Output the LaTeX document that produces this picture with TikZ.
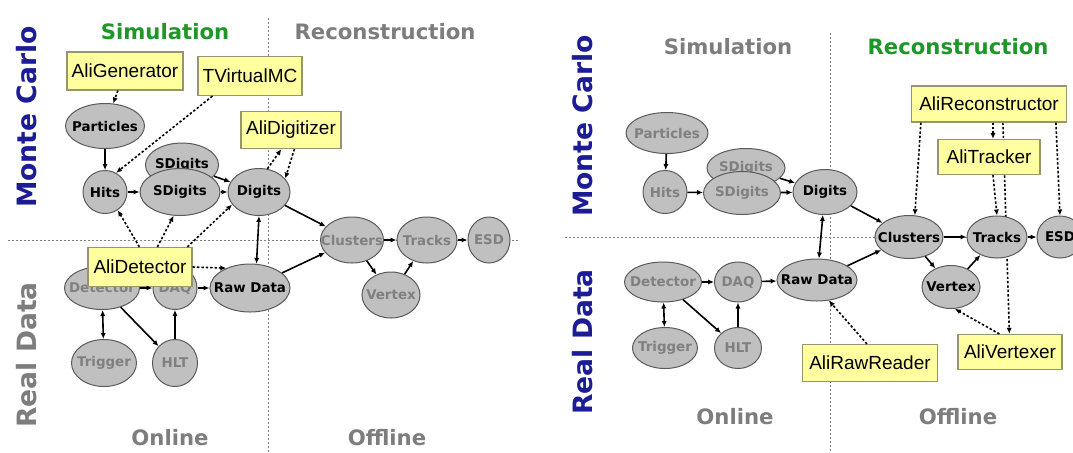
\documentclass[tikz,border=0pt]{standalone}
\usepackage{fontspec}
\setmainfont{Liberation Sans}
\newfontfamily\dejavu{DejaVu Sans}
\usetikzlibrary{shapes.geometric,arrows.meta,backgrounds}
\definecolor{blobfill}{RGB}{192,192,192}
\definecolor{blobline}{RGB}{90,90,90}
\definecolor{fadetext}{RGB}{128,128,128}
\definecolor{boxfill}{RGB}{255,255,160}
\definecolor{boxline}{RGB}{150,150,110}
\definecolor{simgreen}{RGB}{30,150,40}
\definecolor{headgray}{RGB}{125,125,125}
\definecolor{mcblue}{RGB}{28,28,150}
\newcommand{\inblob}[1]{\makebox[0pt]{#1}}

\begin{document}
\begin{tikzpicture}[x=0.5pt,y=-0.5pt,
  oval/.style 2 args={ellipse,draw=blobline,fill=blobfill,line width=0.5pt,inner sep=0pt,
    minimum width=#1,minimum height=#2,font=\dejavu\bfseries\fontsize{6.7}{8}\selectfont},
  faded/.style={text=fadetext},
  classbox/.style 2 args={rectangle,draw=boxline,fill=boxfill,line width=0.6pt,inner sep=1pt,
    minimum width=#1,minimum height=#2,font=\fontsize{9.5}{11}\selectfont},
  panelhead/.style={font=\dejavu\bfseries\fontsize{10.6}{12}\selectfont},
  rowlabel/.style={rotate=90,font=\dejavu\bfseries\fontsize{13.3}{15}\selectfont},
  flow/.style={line width=0.8pt,-{Latex[length=3pt,width=2.6pt]}},
  twoway/.style={line width=0.8pt,{Latex[length=3pt,width=2.6pt]}-{Latex[length=3pt,width=2.6pt]}},
  uses/.style={line width=0.8pt,dash pattern=on 1.2pt off 1pt,-{Latex[length=3pt,width=2.6pt]}},
  split/.style={draw=gray,dash pattern=on 1pt off 1pt,line width=0.5pt}]
\useasboundingbox (0,0) rectangle (1073,452);
\begin{pgfonlayer}{background}
  \fill[white] (0,0) rectangle (1073,452);
\end{pgfonlayer}
\clip (0,0) rectangle (1073,452);

%Left panel
  \draw[split] (268,18) -- (268,452);
  \draw[split] (8,240) -- (520,240);
  \node[panelhead,text=simgreen] (SimL) at (165,32) {Simulation};
  \node[panelhead,text=headgray] (RecL) at (385,32) {Reconstruction};
  \node[panelhead,text=headgray] (OnL) at (170,438) {Online};
  \node[panelhead,text=headgray] (OffL) at (387,438) {Offline};
  \node[rowlabel,text=mcblue] (McL) at (27,117) {Monte Carlo};
  \node[rowlabel,text=headgray] (RdL) at (27,355) {Real Data};
% data
  \node[oval={36.5pt}{22pt}] (SDigbL) at (182,165) {\inblob{SDigits}};
  \node[oval={39.5pt}{22.5pt}] (PartL) at (105,126) {\inblob{Particles}};
  \node[oval={22pt}{21.5pt}] (HitsL) at (105,192) {\inblob{Hits}};
  \node[oval={40pt}{23.5pt}] (SDigL) at (180,192) {\inblob{SDigits}};
  \node[oval={31pt}{23.5pt}] (DigL) at (259,192) {\inblob{Digits}};
  \node[oval={31.5pt}{23pt},faded] (ClusL) at (352,240) {\inblob{Clusters}};
  \node[oval={30pt}{23pt},faded] (TrkL) at (427,240) {\inblob{Tracks}};
  \node[oval={21pt}{23pt},faded] (EsdL) at (489,240) {\inblob{ESD}};
  \node[oval={29pt}{23pt},faded] (VtxL) at (391,295) {\inblob{Vertex}};
  \node[oval={37.5pt}{21.5pt},faded] (DetL) at (102,288) {\inblob{Detector}};
  \node[oval={22pt}{21.5pt},faded] (DaqL) at (175,288) {\inblob{DAQ}};
  \node[oval={40pt}{24pt}] (RawL) at (250,288) {\inblob{Raw Data}};
  \node[oval={32.5pt}{23.5pt},faded] (TrigL) at (104,363) {\inblob{Trigger}};
  \node[oval={22.5pt}{23.5pt},faded] (HltL) at (175,363) {\inblob{HLT}};
% classes
  \node[classbox={58pt}{19pt}] (GenL) at (125,71) {AliGenerator};
  \node[classbox={52pt}{19.5pt}] (VmcL) at (250,76) {TVirtualMC};
  \node[classbox={50pt}{18.5pt}] (DigzL) at (291,130) {AliDigitizer};
  \node[classbox={52pt}{19.5pt}] (DetcL) at (140,267) {AliDetector};
% arrows
  \draw[uses] (GenL) -- (PartL);
  \draw[uses] ([xshift=7.5pt]VmcL.south west) -- (HitsL.60);
  \draw[flow] (PartL) -- (HitsL);
  \draw[flow] (HitsL) -- (SDigL);
  \draw[flow] (SDigL) -- (DigL);
  \draw[flow] (SDigbL) -- (DigL);
  \draw[uses] (DigL.70) -- ([xshift=20.5pt]DigzL.south west);
  \draw[uses] ([xshift=27pt]DigzL.south west) -- (DigL.27);
  \draw[uses] ([xshift=26pt]DetcL.north west) -- (HitsL.-55);
  \draw[uses] ([xshift=35pt]DetcL.north west) -- (SDigL.-105);
  \draw[uses] ([xshift=50pt]DetcL.north west) -- (DigL.205);
  \draw[uses] (DetcL.east) -- (RawL.140);
  \draw[twoway] (DigL.south) -- (RawL.75);
  \draw[flow] (DigL) -- (ClusL);
  \draw[flow] (RawL) -- (ClusL);
  \draw[flow] (ClusL) -- (TrkL);
  \draw[flow] (TrkL) -- (EsdL);
  \draw[flow] (ClusL) -- (VtxL);
  \draw[flow] (VtxL) -- (TrkL);
  \draw[flow] (DetL) -- (DaqL);
  \draw[flow] (DaqL) -- (RawL);
  \draw[twoway] (DetL) -- (TrigL);
  \draw[flow] (DetL) -- (HltL);
  \draw[flow] (HltL) -- (DaqL);

%Right panel
  \draw[split] (830,33) -- (830,452);
  \draw[split] (565,237) -- (1073,237);
  \node[panelhead,text=headgray] (SimR) at (728,47) {Simulation};
  \node[panelhead,text=simgreen] (RecR) at (958,47) {Reconstruction};
  \node[panelhead,text=headgray] (OnR) at (735,417) {Online};
  \node[panelhead,text=headgray] (OffR) at (958,417) {Offline};
  \node[rowlabel,text=mcblue] (McR) at (583,126) {Monte Carlo};
  \node[rowlabel,text=mcblue] (RdR) at (583,342) {Real Data};
% data
  \node[oval={39pt}{19.5pt},faded] (SDigbR) at (746,168) {\inblob{SDigits}};
  \node[oval={41pt}{20.5pt},faded] (PartR) at (667,133) {\inblob{Particles}};
  \node[oval={22pt}{21.5pt},faded] (HitsR) at (665,192) {\inblob{Hits}};
  \node[oval={38.5pt}{21.5pt},faded] (SDigR) at (742,193) {\inblob{SDigits}};
  \node[oval={32pt}{22.5pt}] (DigR) at (825,192) {\inblob{Digits}};
  \node[oval={34pt}{21.5pt}] (ClusR) at (909,237) {\inblob{Clusters}};
  \node[oval={30pt}{21pt}] (TrkR) at (997,237) {\inblob{Tracks}};
  \node[oval={23pt}{21pt}] (EsdR) at (1060,237) {\inblob{ESD}};
  \node[oval={29pt}{21.5pt}] (VtxR) at (951,287) {\inblob{Vertex}};
  \node[oval={38.5pt}{20pt},faded] (DetR) at (663,282) {\inblob{Detector}};
  \node[oval={23.5pt}{20pt},faded] (DaqR) at (738,282) {\inblob{DAQ}};
  \node[oval={40pt}{21pt}] (RawR) at (817,280) {\inblob{Raw Data}};
  \node[oval={32.5pt}{20.5pt},faded] (TrigR) at (665,348) {\inblob{Trigger}};
  \node[oval={23.5pt}{20.5pt},faded] (HltR) at (738,348) {\inblob{HLT}};
% classes
  \node[classbox={77.5pt}{18pt}] (RecoR) at (989,104) {AliReconstructor};
  \node[classbox={51pt}{17.5pt}] (TrkrR) at (989,157) {AliTracker};
  \node[classbox={67.5pt}{18.5pt}] (RawrR) at (870,363) {AliRawReader};
  \node[classbox={52pt}{17.5pt}] (VtxrR) at (1010,352) {AliVertexer};
% arrows
  \draw[flow] (PartR) -- (HitsR);
  \draw[flow] (HitsR) -- (SDigR);
  \draw[flow] (SDigR) -- (DigR);
  \draw[flow] (SDigbR) -- (DigR);
  \draw[twoway] (DigR) -- (RawR);
  \draw[flow] (DigR) -- (ClusR);
  \draw[flow] (RawR) -- (ClusR);
  \draw[flow] (ClusR) -- (TrkR);
  \draw[flow] (TrkR) -- (EsdR);
  \draw[flow] (ClusR) -- (VtxR);
  \draw[flow] (VtxR) -- (TrkR);
  \draw[flow] (DetR) -- (DaqR);
  \draw[flow] (DaqR) -- (RawR);
  \draw[twoway] (DetR) -- (TrigR);
  \draw[flow] (DetR) -- (HltR);
  \draw[flow] (HltR) -- (DaqR);
  \draw[uses] ([xshift=32.5pt]RawrR.north west) -- (RawR.-60);
  \draw[uses] ([xshift=5pt]RecoR.south west) -- (ClusR.75);
  \draw[uses] ([xshift=2pt]RecoR.south) -- ([xshift=2pt]TrkrR.north);
  \draw[uses] ([xshift=72.5pt]RecoR.south west) -- (EsdR.north);
  \draw[uses] ([xshift=2pt]TrkrR.south) -- (TrkR.north);
  \draw[uses] ([xshift=21pt]VtxrR.north west) -- (VtxR.-80);
  \begin{pgfonlayer}{background}
    \draw[uses] ([xshift=46pt]RecoR.south west) -- ([xshift=26pt]VtxrR.north west);
  \end{pgfonlayer}
\end{tikzpicture}
\end{document}
